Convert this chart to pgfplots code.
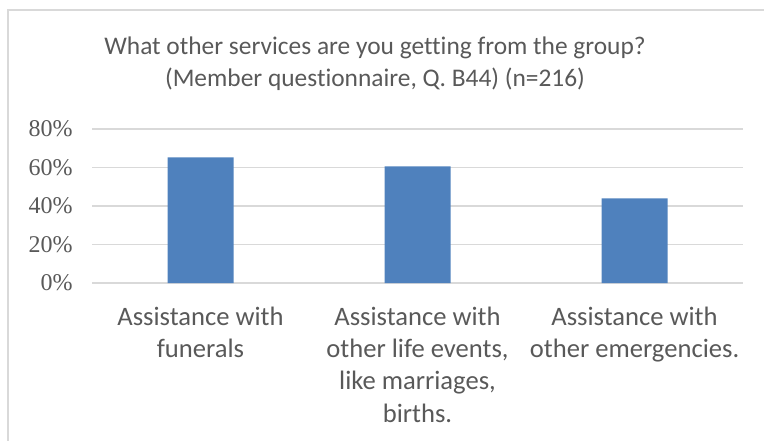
\documentclass[border=0pt]{standalone}
\usepackage{pgfplots}
\pgfplotsset{compat=1.18}
\usepackage{fontspec}
\setmainfont{Carlito}[Ligatures=NoCommon]
\newfontfamily\tickfont{Liberation Serif}
\definecolor{txt}{HTML}{595959}
\definecolor{grd}{HTML}{D9D9D9}
\definecolor{bar}{HTML}{4F81BD}
\begin{document}
\begin{tikzpicture}
\begin{axis}[
  scale only axis,
  width=325.5pt, height=77pt,
  xmin=-0.5, xmax=2.5,
  ymin=0, ymax=80,
  ytick={0,20,40,60,80},
  yticklabel={\tickfont\fontsize{12}{14}\selectfont\pgfmathprintnumber{\tick}\%},
  /pgf/number format/assume math mode=true,
  yticklabel style={text=txt, inner sep=0pt, anchor=east, xshift=-9.5pt},
  xtick={0,1,2},
  xticklabels={{Assistance with\\funerals},{Assistance with\\other life events,\\like marriages,\\births.},{Assistance with\\other emergencies.}},
  xticklabel style={font=\fontsize{13.3}{16.1}\selectfont, text=txt, inner sep=0pt, anchor=north, yshift=-7.5pt, align=center},
  ymajorgrids,
  grid style={grd, line width=0.75pt},
  axis line style={draw=none},
  tick style={draw=none},
  ybar,
  bar width=33pt,
]
\addplot[fill=bar, draw=none] coordinates {(0,65.3) (1,60.6) (2,44.0)};
\end{axis}
\node[font=\fontsize{12.7}{16}\selectfont, text=txt, align=center] at (141.5pt,109.5pt)
  {What other services are you getting from the group?\\(Member questionnaire, Q. B44) (n=216)};
\draw[grd, line width=1pt] (340pt,136.25pt) -- (-41.75pt,136.25pt) -- (-41.75pt,-90pt);
\pgfresetboundingbox
\useasboundingbox (-46pt,-78.5pt) rectangle (336pt,141.5pt);
\end{tikzpicture}
\end{document}
